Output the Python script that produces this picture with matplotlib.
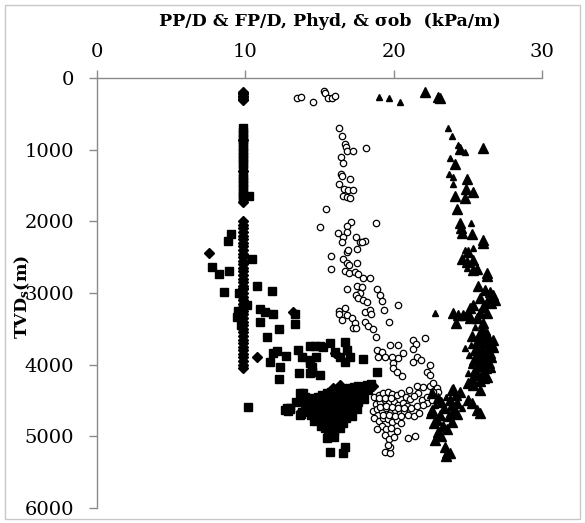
import matplotlib
matplotlib.use("Agg")
import matplotlib.pyplot as plt
from matplotlib.patches import Rectangle

# ---------------- data (kPa/m, m) ----------------
# Hydrostatic gradient (diamonds)
phyd_val = [9.81, 9.81, 9.81, 9.81, 9.81, 9.81, 9.81,
            9.81, 9.81, 9.81,
            9.81, 9.81, 9.81, 9.81, 9.81, 9.81, 9.81, 9.81, 9.81, 9.81,
            9.81, 9.81, 9.81, 9.81, 9.81, 9.81, 9.81, 9.81, 9.81, 9.81,
            9.81, 9.81, 9.81, 9.81, 9.81, 9.81, 9.81, 9.81, 9.81, 9.81,
            9.81, 9.81, 9.81, 9.81, 9.81, 9.81, 9.81, 9.81, 9.81, 9.81,
            9.81, 9.81, 9.81,
            7.55, 13.2, 10.8, 16.05, 17.1, 18.6, 15.9, 16.4]
phyd_tvd = [190, 210, 230, 250, 270, 290, 310,
            870, 1300, 1730,
            2000, 2050, 2100, 2150, 2200, 2250, 2300, 2350, 2400, 2450,
            2500, 2550, 2600, 2650, 2700, 2750, 2800, 2850, 2900, 2930,
            2950, 3000, 3050, 3100, 3150, 3200, 3250, 3300, 3350, 3400,
            3450, 3500, 3550, 3600, 3650, 3700, 3750, 3800, 3850, 3900,
            3950, 4000, 4040,
            2441, 3270, 3890, 3840, 4320, 4300, 4330, 4290]

# Pore pressure gradient PP/D (filled squares)
pp_val = [9.81, 9.81, 9.81, 9.81, 9.81, 9.81, 9.81, 9.81, 9.81, 9.81,
          9.81, 9.81, 9.81, 9.81, 9.81, 9.81, 9.81, 9.81, 9.81, 9.81, 10.25,
          10.1, 9.45, 9.6, 9.5, 9.7,
          9.04, 8.83, 10.45, 7.75, 8.23, 8.9, 8.56, 10.8, 11.8, 10.99,
          11.33, 11.87, 10.99, 12.27, 11.46, 13.35, 13.35, 11.67, 11.87, 12.14,
          12.74, 12.34, 12.27, 13.55, 13.82, 13.62, 14.36, 14.7, 15.04, 15.24,
          14.36, 14.77, 14.5, 15.04, 15.71, 16.72, 16.05, 16.39, 16.86, 17.06,
          16.72, 17.94, 18.88, 14.36, 14.5, 14.36, 10.18, 12.68, 13.01, 13.69, 13.76,
          14.0, 14.3, 14.6, 14.9, 15.2, 15.5, 15.8, 16.1, 16.4, 16.7,
          17.0, 17.3, 17.6, 17.9, 18.2, 18.5, 18.3, 17.8, 17.4, 17.0,
          16.6, 16.2, 15.8, 15.4, 15.0, 14.6, 14.2, 13.8, 14.4, 14.8,
          15.2, 15.6, 16.0, 16.4, 16.8, 17.2, 17.6, 18.0, 17.5, 17.0,
          16.6, 16.2, 15.8, 15.4, 15.0, 14.6, 15.2, 15.6, 16.0, 16.4,
          16.8, 17.2, 15.4, 15.8, 16.2, 16.6, 15.6, 16.0, 15.5, 16.0,
          15.7, 16.7, 16.6, 12.8, 13.0, 13.7, 13.4, 14.0, 13.9, 12.9,
          14.2, 14.5, 14.8, 15.1, 15.4, 15.7, 16.0, 16.3, 16.6, 16.9,
          17.2, 17.5, 14.1, 14.4, 14.7, 15.0, 15.3, 15.6, 15.9, 16.2,
          16.5, 16.8, 17.1, 15.0, 15.3, 15.9, 16.3, 15.1, 15.7, 16.4]
pp_tvd = [700, 750, 800, 850, 900, 950, 1000, 1050, 1100, 1150,
          1200, 1250, 1350, 1400, 1450, 1500, 1550, 1600, 1650, 1680, 1645,
          3170, 3330, 3000, 3250, 3450,
          2180, 2270, 2530, 2637, 2734, 2692, 2985, 2902, 2971, 3222,
          3264, 3292, 3404, 3501, 3613, 3292, 3432, 3962, 3836, 3808,
          3878, 4032, 4199, 3794, 3892, 4115, 3739, 3739, 3739, 3753,
          3976, 3892, 4101, 4143, 3697, 3683, 3822, 3892, 3794, 3892,
          3962, 3920, 4101, 3934, 4032, 4115, 4590, 4631, 4604, 4394, 4687,
          4560, 4520, 4480, 4450, 4420, 4400, 4380, 4430, 4400, 4360,
          4330, 4310, 4300, 4320, 4290, 4270, 4360, 4400, 4440, 4480,
          4500, 4520, 4540, 4560, 4580, 4610, 4640, 4660, 4700, 4680,
          4650, 4630, 4610, 4590, 4570, 4550, 4520, 4480, 4620, 4650,
          4680, 4700, 4720, 4740, 4760, 4780, 4820, 4800, 4780, 4760,
          4740, 4710, 4880, 4860, 4840, 4820, 4950, 4930, 5020, 5010,
          5220, 5150, 5230, 4600, 4620, 4700, 4520, 4450, 4390, 4650,
          4500, 4470, 4530, 4490, 4460, 4500, 4470, 4480, 4450, 4430,
          4420, 4400, 4590, 4570, 4600, 4620, 4590, 4580, 4560, 4560,
          4540, 4520, 4600, 4700, 4730, 4690, 4730, 4860, 4900, 4880]

# Fracture pressure gradient FP/D (open circles)
fp_val = [13.5, 13.75, 14.55, 15.3, 15.4, 15.6, 15.85, 16.05,
          16.32, 16.52, 16.72, 16.79, 16.86, 17.26, 18.14, 16.45, 16.59, 16.45,
          16.52, 17.06, 16.32, 16.65, 16.93, 17.26, 16.59, 16.86, 17.06, 15.44,
          15.04, 18.81, 17.13, 16.86, 16.25, 16.59, 16.86, 17.46, 17.73, 18.07,
          17.87, 16.52, 16.86, 16.93, 17.53, 15.78, 16.59, 16.86, 16.99, 17.53,
          15.78, 16.72, 16.99, 17.40, 17.60, 17.94, 18.41,
          16.86, 17.53, 17.87, 17.73, 17.46, 17.60, 17.94, 18.21, 18.88, 19.08,
          19.22, 19.35, 20.30, 19.69, 16.32, 16.32, 16.72, 16.86, 16.52, 17.19,
          17.40, 17.26, 17.46, 18.07, 18.41, 18.48, 18.07, 18.27, 18.61, 18.81,
          18.88, 19.22, 19.76, 20.30, 20.63, 20.30, 19.89, 19.42, 18.95, 19.96,
          19.96, 20.23, 20.57, 21.31, 21.51, 22.12, 21.31, 21.58, 21.85, 21.31,
          22.45, 22.25, 22.45,
          21.04, 21.58, 21.98, 22.45, 22.66, 22.93, 22.99, 21.65, 21.92, 22.25,
          22.25, 22.59, 22.66,
          18.7, 19.0, 19.3, 19.6, 19.9, 20.2, 20.5, 20.8, 21.1, 21.4,
          18.8, 19.1, 19.4, 19.7, 20.0, 20.3, 20.6, 20.9, 21.2, 21.6,
          18.6, 18.9, 19.2, 19.5, 19.8, 20.1, 20.4, 20.7, 21.0, 21.4,
          18.7, 19.0, 19.3, 19.6, 19.9, 20.2, 20.5, 19.2, 19.5, 19.8,
          20.2, 19.4, 19.7, 20.0, 19.4, 19.76, 19.76, 19.62, 21.0, 21.45,
          18.9, 21.7, 22.0,
          19.1, 19.5, 19.9, 20.3, 20.7, 19.3, 19.7, 20.1, 20.5, 19.0, 19.4, 19.8]
fp_tvd = [280, 265, 335, 180, 210, 280, 280, 250,
          698, 809, 921, 963, 1018, 1018, 977, 1102, 1186, 1339,
          1367, 1409, 1479, 1548, 1562, 1562, 1646, 1660, 1674, 1827,
          2079, 2023, 2009, 2065, 2162, 2218, 2148, 2218, 2288, 2274,
          2288, 2288, 2427, 2399, 2385, 2483, 2525, 2581, 2609, 2581,
          2664, 2692, 2720, 2706, 2734, 2790, 2790,
          2943, 2902, 2916, 2999, 3027, 3069, 3097, 3125, 2943, 3027,
          3111, 3236, 3167, 3404, 3250, 3292, 3208, 3306, 3376, 3348,
          3418, 3487, 3487, 3264, 3236, 3292, 3404, 3460, 3501, 3613,
          3794, 3822, 3725, 3725, 3836, 3906, 3892, 3892, 3892, 3976,
          4046, 4101, 4157, 3655, 3711, 3627, 3781, 3892, 3934, 3962,
          4004, 4101, 4143,
          4352, 4297, 4311, 4297, 4255, 4324, 4380, 4394, 4492, 4450,
          4534, 4492, 4380,
          4450, 4420, 4400, 4380, 4410, 4430, 4400, 4450, 4480, 4440,
          4550, 4520, 4500, 4540, 4520, 4560, 4540, 4580, 4600, 4580,
          4650, 4620, 4640, 4610, 4660, 4630, 4670, 4650, 4700, 4720,
          4750, 4780, 4740, 4760, 4800, 4770, 4820, 4860, 4900, 4880,
          4920, 4980, 5040, 5010, 5220, 5230, 5150, 5120, 5020, 4990,
          4900, 4680, 4560,
          4590, 4580, 4590, 4600, 4600, 4700, 4700, 4710, 4720, 4470, 4470, 4460]

# Overburden gradient sigma_ob (filled triangles, small and large)
sob_small_val = [19.0, 19.7, 20.45, 23.65, 23.9, 24.35, 24.8, 23.8, 23.75, 24.01,
                 24.01, 25.22, 24.81, 25.35, 24.95, 22.79, 24.81, 25.5, 26.3, 25.2,
                 26.8, 25.1, 26.7, 25.2, 26.6, 25.0, 24.0, 23.5, 22.8, 24.6]
sob_small_tvd = [265, 280, 335, 698, 809, 935, 1032, 1116, 1339, 1381,
                 1479, 2023, 2399, 2372, 2650, 3278, 3767, 3480, 3540, 3720,
                 3780, 3860, 3920, 4000, 4060, 4120, 4310, 4450, 4560, 4600]
sob_large_val = [22.1, 23.0, 23.1, 24.5, 26.03, 24.14, 24.95, 24.88, 25.35, 24.14,
                 24.81, 24.28, 24.48, 24.54, 24.61, 25.29, 26.03, 26.03, 25.02, 24.61,
                 24.95, 25.35, 25.35, 25.62, 26.30, 26.30,
                 25.69, 26.16, 26.50, 26.70, 26.84, 25.83, 26.30, 26.57, 26.03, 25.35,
                 25.15, 25.83, 26.30, 25.62, 26.03, 24.01, 24.34, 24.68, 25.02, 24.21,
                 25.15,
                 26.0, 25.8, 25.3, 25.9, 26.4, 26.7, 25.6, 26.1, 25.8, 26.4,
                 25.5, 26.0, 26.5, 25.7, 26.2, 25.4, 25.9, 26.4, 25.7, 26.2,
                 25.5, 26.0, 25.6, 26.3, 25.3, 25.8, 26.1,
                 25.02, 25.35, 25.83, 25.02, 25.29, 25.62, 25.83,
                 23.94, 23.80, 24.28, 22.99, 22.59, 22.93, 24.5, 24.2, 23.2, 23.9,
                 23.4, 24.0, 22.5, 23.1, 23.7, 24.3, 22.7, 23.3, 23.9, 23.0,
                 23.6, 23.2, 22.79, 23.47, 23.60, 23.80, 23.5, 22.6,
                 26.2, 26.6, 25.9, 26.3, 25.6, 26.1]
sob_large_tvd = [195, 265, 280, 990, 977, 1200, 1409, 1548, 1590, 1646,
                 1674, 1827, 2023, 2093, 2162, 2176, 2260, 2302, 2427, 2525,
                 2567, 2539, 2678, 2664, 2720, 2762,
                 2902, 2957, 2985, 3027, 3097, 3069, 3125, 3139, 3195, 3167,
                 3208, 3278, 3278, 3348, 3418, 3278, 3306, 3306, 3278, 3418,
                 3348,
                 3500, 3560, 3600, 3620, 3640, 3660, 3680, 3700, 3740, 3760,
                 3800, 3820, 3840, 3880, 3900, 3940, 3960, 3980, 4020, 4040,
                 4080, 4100, 4150, 4170, 4200, 4230, 4190,
                 4255, 4283, 4352, 4492, 4534, 4631, 4673,
                 4352, 4492, 4534, 4464, 4631, 4771, 4380, 4420, 4520, 4560,
                 4600, 4640, 4680, 4700, 4720, 4690, 4820, 4850, 4800, 4940,
                 4900, 5000, 5050, 5148, 5231, 5231, 5280, 4400,
                 3580, 3720, 3780, 3860, 3920, 4000]

x_ticks = [0, 10, 20, 30]
y_ticks = [0, 1000, 2000, 3000, 4000, 5000, 6000]

# ---------------- figure ----------------
plt.rcParams['mathtext.fontset'] = 'dejavuserif'
fig = plt.figure(figsize=(5.85, 5.23), dpi=100)
fig.patches.append(Rectangle((0.009, 0.008), 0.982, 0.982, transform=fig.transFigure,
                             fill=False, edgecolor='#c8c8c8', linewidth=1.0))

ax = fig.add_axes([0.1658, 0.0287, 0.7607, 0.8222])

ax.plot(phyd_val, phyd_tvd, linestyle='none', marker='D', ms=4.6, color='black')
ax.plot(pp_val, pp_tvd, linestyle='none', marker='s', ms=5.2, color='black')
ax.plot(fp_val, fp_tvd, linestyle='none', marker='o', ms=4.6, mfc='white',
        mec='black', mew=0.9)
ax.plot(sob_small_val, sob_small_tvd, linestyle='none', marker='^', ms=4.5, color='black')
ax.plot(sob_large_val, sob_large_tvd, linestyle='none', marker='^', ms=7.0, color='black')

ax.set_xlim(0, 30)
ax.set_ylim(6000, 0)
ax.set_xticks(x_ticks)
ax.set_yticks(y_ticks)
ax.xaxis.set_ticks_position('top')
ax.xaxis.set_label_position('top')

axis_gray = '#8a8a8a'
for side in ['right', 'bottom']:
    ax.spines[side].set_visible(False)
for side in ['top', 'left']:
    ax.spines[side].set_color(axis_gray)
    ax.spines[side].set_linewidth(1.0)

ax.tick_params(axis='x', direction='out', length=5.5, width=1.0, color=axis_gray,
               pad=7, labelsize=14, labelcolor='black')
ax.tick_params(axis='y', direction='out', length=5.5, width=1.0, color=axis_gray,
               pad=11, labelsize=14, labelcolor='black')
for lab in ax.get_xticklabels() + ax.get_yticklabels():
    lab.set_fontfamily('DejaVu Serif')

fig.text(330 / 585, 1 - 22 / 523, 'PP/D & FP/D, Phyd, & σob  (kPa/m)',
         ha='center', va='center', fontsize=12.5, fontweight='bold',
         family='DejaVu Serif')
fig.text(22 / 585, 1 - 297 / 523, r'TVD$_{\mathbf{s}}$(m)', rotation=90,
         ha='center', va='center', fontsize=12.5, fontweight='bold',
         family='DejaVu Serif')

fig.savefig('out.png', dpi=100)
